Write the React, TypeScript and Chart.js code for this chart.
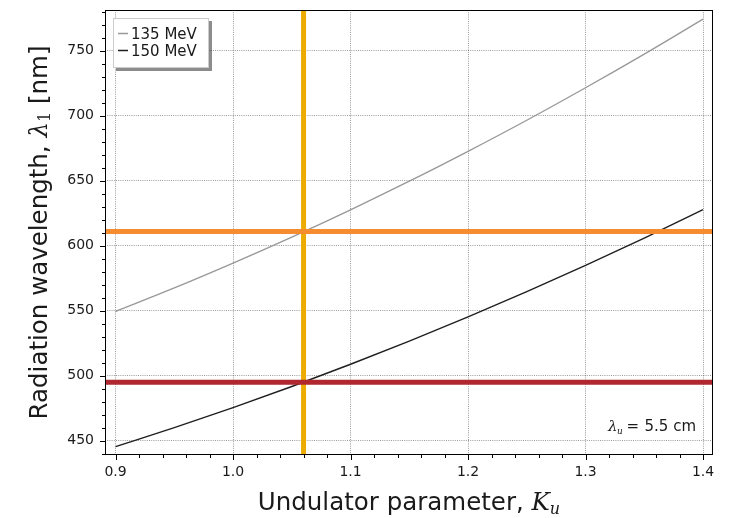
import React, { useEffect, useRef } from 'react';
import { Chart, registerables } from 'chart.js';

Chart.register(...registerables);

// ---- data ----
const K_VALUES = [0.9, 0.95, 1.0, 1.05, 1.1, 1.15, 1.2, 1.25, 1.3, 1.35, 1.4];
const WL_135 = [549.4, 567.5, 586.6, 606.6, 627.6, 649.6, 672.6, 696.5, 721.5, 747.4, 774.3];
const WL_150 = [445.4, 460.0, 475.5, 491.7, 508.8, 526.6, 545.2, 564.7, 584.9, 605.9, 627.7];
const SERIES_LABELS = ['135 MeV', '150 MeV'];
const K_MARK = 1.06;
const WL_MARK_135 = 611;
const WL_MARK_150 = 495;
const X_TICKS = [0.9, 1.0, 1.1, 1.2, 1.3, 1.4];
const Y_TICKS = [450, 500, 550, 600, 650, 700, 750];
const X_TICK_LABELS = ['0.9', '1.0', '1.1', '1.2', '1.3', '1.4'];
const X_MIN = 0.891;
const X_MAX = 1.4085;
const Y_MIN = 439;
const Y_MAX = 781.3;

const FONT = 'DejaVu Sans';
const MATH = 'DejaVu Serif';

const COL_135 = '#999999';
const COL_150 = '#1e1e1e';
const COL_V = '#ebab00';
const COL_H1 = '#f58c30';
const COL_H2 = '#b0272f';

const TITLE_SIZE = 24.5;

const decorPlugin = {
  id: 'decor',
  afterDraw(chart: any) {
    const { ctx, chartArea, scales } = chart;
    const { left, right, top, bottom } = chartArea;
    const xs = scales.x;
    const ys = scales.y;
    ctx.save();
    // ticks
    ctx.strokeStyle = '#000';
    ctx.lineWidth = 1;
    ctx.beginPath();
    for (let i = 45; i <= 70; i++) {
      const v = i / 50;
      if (v < X_MIN || v > X_MAX) continue;
      const px = Math.round(xs.getPixelForValue(v)) + 0.5;
      const len = i % 5 === 0 ? 5 : 3;
      ctx.moveTo(px, bottom);
      ctx.lineTo(px, bottom + len);
    }
    for (let v = 440; v <= 780; v += 10) {
      if (v < Y_MIN || v > Y_MAX) continue;
      const py = Math.round(ys.getPixelForValue(v)) + 0.5;
      const len = v % 50 === 0 ? 5 : 3;
      ctx.moveTo(left, py);
      ctx.lineTo(left - len, py);
    }
    ctx.stroke();
    // spines
    ctx.lineWidth = 1;
    ctx.strokeStyle = '#000';
    ctx.strokeRect(left + 0.5, top + 0.5, right - left - 1, bottom - top - 1);

    // legend
    const lx = 113, ly = 18, lw = 96, lh = 50;
    ctx.fillStyle = 'rgba(0,0,0,0.45)';
    ctx.fillRect(lx + 3, ly + 3, lw, lh);
    ctx.fillStyle = '#fff';
    ctx.fillRect(lx, ly, lw, lh);
    ctx.strokeStyle = '#cccccc';
    ctx.lineWidth = 1;
    ctx.strokeRect(lx + 0.5, ly + 0.5, lw - 1, lh - 1);
    ctx.font = `15px "${FONT}"`;
    ctx.textAlign = 'left';
    ctx.textBaseline = 'alphabetic';
    const cols = [COL_135, COL_150];
    SERIES_LABELS.forEach((lab, i) => {
      const yy = 39 + i * 17;
      ctx.strokeStyle = cols[i];
      ctx.lineWidth = 1.5;
      ctx.beginPath();
      ctx.moveTo(118, yy - 5.5);
      ctx.lineTo(128, yy - 5.5);
      ctx.stroke();
      ctx.fillStyle = '#1a1a1a';
      ctx.fillText(lab, 131, yy);
    });

    // annotation  λ_u = 5.5 cm
    ctx.fillStyle = '#1a1a1a';
    ctx.font = `italic 15px "${MATH}"`;
    ctx.fillText('λ', 608, 431);
    const ax = 608 + ctx.measureText('λ').width;
    ctx.font = `italic 9px "${MATH}"`;
    ctx.fillText('u', ax - 0.5, 434);
    ctx.font = `15px "${FONT}"`;
    ctx.fillText('=', 626.5, 431);
    ctx.textAlign = 'right';
    ctx.fillText('5.5 cm', 696, 431);

    // x title
    ctx.textAlign = 'left';
    const p1 = 'Undulator parameter, ';
    ctx.font = `${TITLE_SIZE}px "${FONT}"`;
    const w1 = ctx.measureText(p1).width;
    ctx.font = `italic ${TITLE_SIZE}px "${MATH}"`;
    const w2 = ctx.measureText('K').width;
    ctx.font = `italic 16px "${MATH}"`;
    const w3 = ctx.measureText('u').width;
    const total = w1 + w2 + w3;
    let tx = (left + right) / 2 - total / 2;
    const tb = 510;
    ctx.font = `${TITLE_SIZE}px "${FONT}"`;
    ctx.fillText(p1, tx, tb);
    tx += w1;
    ctx.font = `italic ${TITLE_SIZE}px "${MATH}"`;
    ctx.fillText('K', tx, tb);
    tx += w2;
    ctx.font = `italic 16px "${MATH}"`;
    ctx.fillText('u', tx, tb + 4);

    // y title (rotated)
    ctx.save();
    ctx.translate(47, (top + bottom) / 2);
    ctx.rotate(-Math.PI / 2);
    const q1 = 'Radiation wavelength, ';
    const q4 = ' [nm]';
    ctx.font = `${TITLE_SIZE}px "${FONT}"`;
    const v1 = ctx.measureText(q1).width;
    const v4 = ctx.measureText(q4).width;
    ctx.font = `italic ${TITLE_SIZE}px "${MATH}"`;
    const v2 = ctx.measureText('λ').width;
    ctx.font = `16px "${MATH}"`;
    const v3 = ctx.measureText('1').width;
    let ry = -(v1 + v2 + v3 + v4) / 2;
    ctx.font = `${TITLE_SIZE}px "${FONT}"`;
    ctx.fillText(q1, ry, 0);
    ry += v1;
    ctx.font = `italic ${TITLE_SIZE}px "${MATH}"`;
    ctx.fillText('λ', ry, 0);
    ry += v2;
    ctx.font = `16px "${MATH}"`;
    ctx.fillText('1', ry, 3);
    ry += v3;
    ctx.font = `${TITLE_SIZE}px "${FONT}"`;
    ctx.fillText(q4, ry, 0);
    ctx.restore();

    ctx.restore();
  },
};

export default function App() {
  const ref = useRef<HTMLCanvasElement | null>(null);
  useEffect(() => {
    if (!ref.current) return;
    Chart.defaults.font.family = FONT;
    const gridOpts = {
      color: 'rgba(0,0,0,0.5)',
      lineWidth: 0.8,
      drawTicks: false,
    };
    const chart = new Chart(ref.current, {
      type: 'scatter',
      data: {
        datasets: [
          {
            label: 'h135',
            data: [{ x: X_MIN, y: WL_MARK_135 }, { x: X_MAX, y: WL_MARK_135 }],
            borderColor: COL_H1,
            borderWidth: 5,
            showLine: true,
            pointRadius: 0,
            order: 0,
          },
          {
            label: 'h150',
            data: [{ x: X_MIN, y: WL_MARK_150 }, { x: X_MAX, y: WL_MARK_150 }],
            borderColor: COL_H2,
            borderWidth: 5,
            showLine: true,
            pointRadius: 0,
            order: 0,
          },
          {
            label: 'vmark',
            data: [{ x: K_MARK, y: Y_MIN }, { x: K_MARK, y: Y_MAX }],
            borderColor: COL_V,
            borderWidth: 5,
            showLine: true,
            pointRadius: 0,
            order: 1,
          },
          {
            label: SERIES_LABELS[0],
            data: K_VALUES.map((k, i) => ({ x: k, y: WL_135[i] })),
            borderColor: COL_135,
            borderWidth: 1.4,
            showLine: true,
            pointRadius: 0,
            cubicInterpolationMode: 'monotone',
            order: 2,
          },
          {
            label: SERIES_LABELS[1],
            data: K_VALUES.map((k, i) => ({ x: k, y: WL_150[i] })),
            borderColor: COL_150,
            borderWidth: 1.4,
            showLine: true,
            pointRadius: 0,
            cubicInterpolationMode: 'monotone',
            order: 2,
          },
        ],
      },
      options: {
        animation: false,
        responsive: false,
        devicePixelRatio: 1,
        layout: { padding: { left: 0, right: 18, top: 10, bottom: 0 } },
        plugins: { legend: { display: false }, tooltip: { enabled: false } },
        scales: {
          x: {
            type: 'linear',
            min: X_MIN,
            max: X_MAX,
            afterBuildTicks: (s: any) => {
              s.ticks = X_TICKS.map((v) => ({ value: v }));
            },
            afterFit: (s: any) => {
              s.height = 63;
              s.paddingLeft = 0;
              s.paddingRight = 0;
            },
            ticks: {
              padding: 9,
              maxRotation: 0,
              autoSkip: false,
              color: '#1a1a1a',
              font: { size: 14, family: FONT },
              callback: (v: any) => {
                const idx = X_TICKS.findIndex((t) => Math.abs(t - v) < 1e-9);
                return idx >= 0 ? X_TICK_LABELS[idx] : '';
              },
            },
            grid: gridOpts,
            border: { display: false, dash: [1, 1.2] },
          },
          y: {
            type: 'linear',
            min: Y_MIN,
            max: Y_MAX,
            afterBuildTicks: (s: any) => {
              s.ticks = Y_TICKS.map((v) => ({ value: v }));
            },
            afterFit: (s: any) => {
              s.width = 105;
              s.paddingTop = 0;
              s.paddingBottom = 0;
            },
            ticks: {
              padding: 11,
              autoSkip: false,
              color: '#1a1a1a',
              font: { size: 14, family: FONT },
              callback: (v: any) => String(v),
            },
            grid: gridOpts,
            border: { display: false, dash: [1, 1.2] },
          },
        },
      },
      plugins: [decorPlugin],
    } as any);
    return () => chart.destroy();
  }, []);
  return (
    <div style={{ position: 'absolute', left: 0, top: 0, width: 731, height: 518, background: '#fff' }}>
      <canvas ref={ref} width={731} height={518} />
    </div>
  );
}
